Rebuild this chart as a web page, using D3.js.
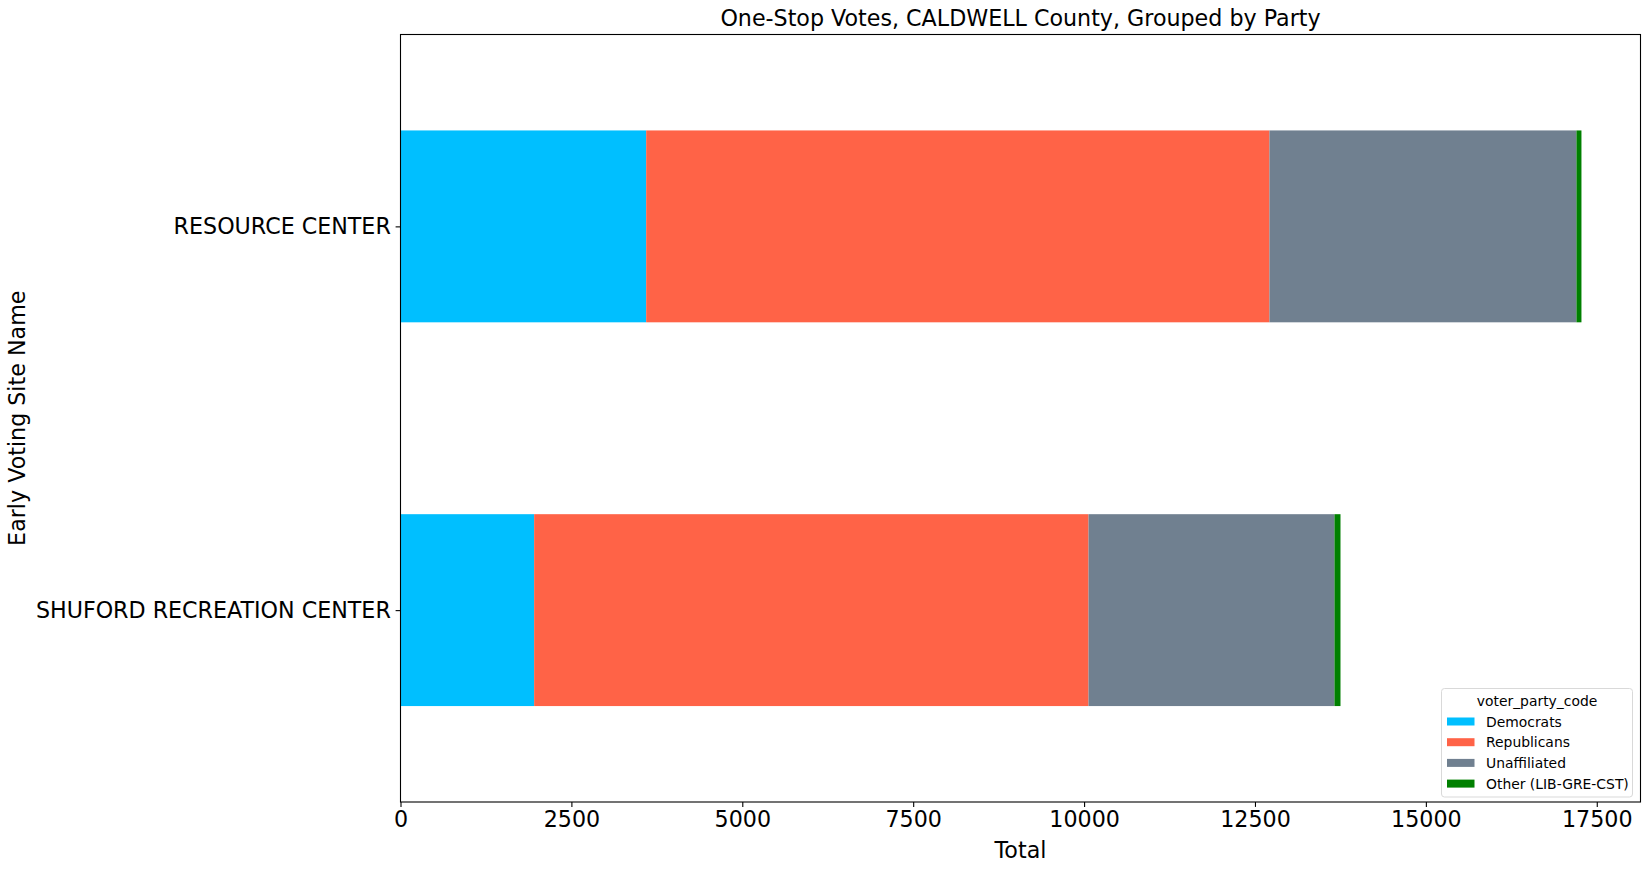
<!DOCTYPE html>
<html>
<head>
<meta charset="utf-8">
<script src="https://cdn.jsdelivr.net/npm/d3@7"></script>
<style>
	body { margin: 0; background: #fff; }
	svg text { font-family: "DejaVu Sans", sans-serif; fill: #000; }
</style>
</head>
<body>
<svg id="chart" width="1650" height="869"></svg>
<script>

//############
//### data ###
//############
var sites = ["SHUFORD RECREATION CENTER", "RESOURCE CENTER"];	// bottom to top
var parties = ["Democrats", "Republicans", "Unaffiliated", "Other (LIB-GRE-CST)"];
var partyColors = ["#00bfff", "#ff6347", "#708090", "#008000"];
var democrats = [1955, 3594];
var republicans = [8110, 9118];
var unaffiliated = [3598, 4491];
var other = [88, 73];
var xTicks = [0, 2500, 5000, 7500, 10000, 12500, 15000, 17500];

var chartTitle = "One-Stop Votes, CALDWELL County, Grouped by Party";
var xLabel = "Total";
var yLabel = "Early Voting Site Name";
var legendTitle = "voter_party_code";

//##############
//### layout ###
//##############
var plot = { left: 400.5, top: 34.5, right: 1640.5, bottom: 802 };
var tickFont = 22.2;

var svg = d3.select("#chart");

// one row per site, stacked in party order
var rows = sites.map(function(site, i){
	return {
		site: site,
		Democrats: democrats[i],
		Republicans: republicans[i],
		Unaffiliated: unaffiliated[i],
		"Other (LIB-GRE-CST)": other[i]
	};
});

var stacked = d3.stack().keys(parties)(rows);

var maxTotal = d3.max(rows, function(r){
	return d3.sum(parties, function(p){ return r[p]; });
});

var x = d3.scaleLinear()
	.domain([0, maxTotal * 1.05])
	.range([plot.left, plot.right]);

// matplotlib style: categories at 0..n-1, limits at -0.5 .. n-0.5
var y = d3.scaleLinear()
	.domain([-0.5, sites.length - 0.5])
	.range([plot.bottom, plot.top]);

var barHeight = 0.5;

//############
//### bars ###
//############
var layers = svg.append("g")
	.selectAll("g")
	.data(stacked)
	.enter()
	.append("g")
		.attr("fill", function(d, i){ return partyColors[i]; });

layers.selectAll("rect")
	.data(function(d){ return d; })
	.enter()
	.append("rect")
		.attr("x", function(d){ return x(d[0]); })
		.attr("width", function(d){ return x(d[1]) - x(d[0]); })
		.attr("y", function(d, i){ return y(i + barHeight / 2); })
		.attr("height", function(d, i){ return y(i - barHeight / 2) - y(i + barHeight / 2); });

//############
//### axes ###
//############
var xAxis = svg.append("g")
	.attr("transform", "translate(0," + plot.bottom + ")")
	.call(
		d3.axisBottom(x)
			.tickValues(xTicks)
			.tickFormat(d3.format("d"))
			.tickSizeOuter(0)
			.tickSize(4.9)
			.tickPadding(4.8)
	);

xAxis.select(".domain").remove();
xAxis.selectAll("line").attr("stroke", "#000").attr("stroke-width", 1.1);
xAxis.selectAll("text")
	.attr("font-size", tickFont)
	.attr("font-family", "DejaVu Sans")
	.attr("fill", "#000");

var yAxis = svg.append("g")
	.attr("transform", "translate(" + plot.left + ",0)")
	.call(
		d3.axisLeft(y)
			.tickValues(d3.range(sites.length))
			.tickFormat(function(i){ return sites[i]; })
			.tickSizeOuter(0)
			.tickSize(4.9)
			.tickPadding(4.8)
	);

yAxis.select(".domain").remove();
yAxis.selectAll("line").attr("stroke", "#000").attr("stroke-width", 1.1);
yAxis.selectAll("text")
	.attr("font-size", tickFont)
	.attr("font-family", "DejaVu Sans")
	.attr("fill", "#000");

// frame
svg.append("rect")
	.attr("x", plot.left)
	.attr("y", plot.top)
	.attr("width", plot.right - plot.left)
	.attr("height", plot.bottom - plot.top)
	.attr("fill", "none")
	.attr("stroke", "#000")
	.attr("stroke-width", 1.1);

//##############
//### labels ###
//##############
svg.append("text")
	.attr("x", (plot.left + plot.right) / 2)
	.attr("y", 26)
	.attr("text-anchor", "middle")
	.attr("font-size", tickFont)
	.text(chartTitle);

svg.append("text")
	.attr("x", (plot.left + plot.right) / 2)
	.attr("y", 858)
	.attr("text-anchor", "middle")
	.attr("font-size", tickFont)
	.text(xLabel);

svg.append("text")
	.attr("transform", "translate(25," + (plot.top + plot.bottom) / 2 + ") rotate(-90)")
	.attr("text-anchor", "middle")
	.attr("font-size", tickFont)
	.text(yLabel);

//##############
//### legend ###
//##############
var legend = svg.append("g")
	.attr("transform", "translate(1441.5,688.5)");

legend.append("rect")
	.attr("width", 191)
	.attr("height", 108.5)
	.attr("rx", 3)
	.attr("fill", "#fff")
	.attr("fill-opacity", 0.8)
	.attr("stroke", "#d9d9d9")
	.attr("stroke-width", 1);

legend.append("text")
	.attr("x", 95.5)
	.attr("y", 17)
	.attr("text-anchor", "middle")
	.attr("font-size", 13.9)
	.text(legendTitle);

var legendItems = legend.selectAll("g.item")
	.data(parties)
	.enter()
	.append("g")
		.attr("class", "item")
		.attr("transform", function(d, i){ return "translate(0," + (29 + i * 20.7) + ")"; });

legendItems.append("rect")
	.attr("x", 5.5)
	.attr("y", 0)
	.attr("width", 27.5)
	.attr("height", 8)
	.attr("fill", function(d, i){ return partyColors[i]; });

legendItems.append("text")
	.attr("x", 44.5)
	.attr("y", 9)
	.attr("font-size", 13.9)
	.text(function(d){ return d; });

</script>
</body>
</html>
